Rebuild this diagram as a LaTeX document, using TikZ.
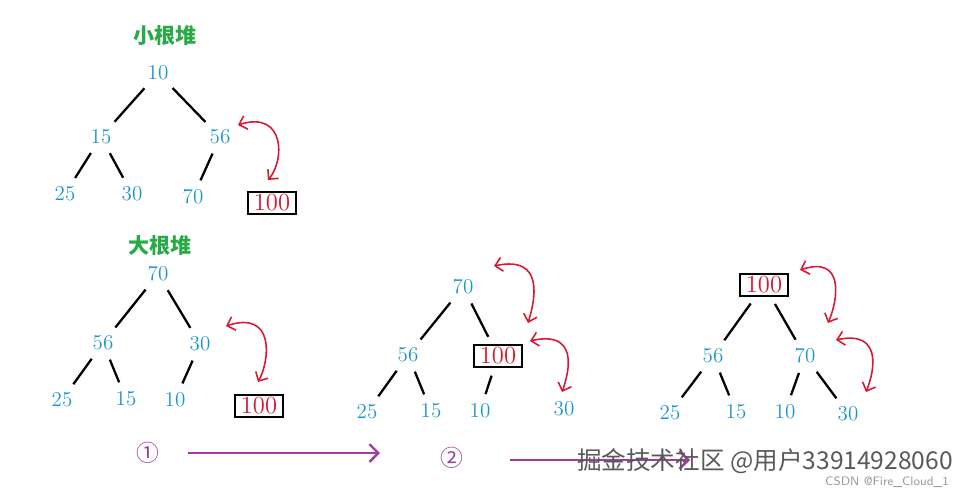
\documentclass[tikz,border=0pt]{standalone}
\usepackage{fontspec}
\newfontfamily\cjk{Noto Sans CJK SC}
\usetikzlibrary{arrows.meta}
\definecolor{heapblue}{RGB}{30,150,200}
\definecolor{heapgreen}{RGB}{40,170,70}
\definecolor{heapred}{RGB}{215,25,50}
\definecolor{heappurple}{RGB}{160,60,160}
\tikzset{
  num/.style={text=heapblue, font=\fontsize{12}{13}\selectfont, inner sep=1pt},
  big/.style={draw=black, line width=1.2pt, text=heapred, font=\fontsize{14}{15}\selectfont, inner sep=1.5pt, minimum width=1.3cm/1.35},
  title/.style={text=heapgreen, font=\cjk\bfseries\fontsize{12}{13}\selectfont},
  edge/.style={line width=1.3pt, shorten <=4.5pt, shorten >=4.5pt},
  swap/.style={<->, heapred, line width=0.9pt, >={Straight Barb[length=4pt]}},
  stepline/.style={->, heappurple, line width=1.4pt, >={Straight Barb[length=5pt]}},
}
\begin{document}
\begin{tikzpicture}[x=0.02cm, y=-0.02cm]
  \useasboundingbox (0,0) rectangle (970,494);

  % min heap
  \node[title] (tmin) at (165,36) {小根堆};
  \node[num] (a10) at (158,73) {10};
  \node[num] (a15) at (101,137) {15};
  \node[num] (a56) at (220,137) {56};
  \node[num] (a25) at (65,194) {25};
  \node[num] (a30) at (132,194) {30};
  \node[num] (a70) at (193,197) {70};
  \node[big] (a100) at (272,203) {100};
  \draw[edge] (a10) -- (a15);
  \draw[edge] (a10) -- (a56);
  \draw[edge] (a15) -- (a25);
  \draw[edge] (a15) -- (a30);
  \draw[edge] (a56) -- (a70);
  \coordinate (as1) at (238,125);
  \coordinate (as2) at (268,180);
  \draw[swap] (as1) .. controls (285,110) and (285,160) .. (as2);

  % max heap
  \node[title] (tmax) at (160,246) {大根堆};
  \node[num] (b70) at (158,274) {70};
  \node[num] (b56) at (103,343) {56};
  \node[num] (b30) at (200,344) {30};
  \node[num] (b25) at (62,400) {25};
  \node[num] (b15) at (126,399) {15};
  \node[num] (b10) at (175,400) {10};
  \node[big] (b100) at (259,406) {100};
  \draw[edge] (b70) -- (b56);
  \draw[edge] (b70) -- (b30);
  \draw[edge] (b56) -- (b25);
  \draw[edge] (b56) -- (b15);
  \draw[edge] (b30) -- (b10);
  \coordinate (bs1) at (226,326);
  \coordinate (bs2) at (258,382);
  \draw[swap] (bs1) .. controls (275,310) and (270,360) .. (bs2);

  % after first swap
  \node[num] (c70) at (463,287) {70};
  \node[num] (c56) at (408,355) {56};
  \node[big] (c100) at (498,356) {100};
  \node[num] (c25) at (367,412) {25};
  \node[num] (c15) at (431,411) {15};
  \node[num] (c10) at (480,411) {10};
  \node[num] (c30) at (564,409) {30};
  \draw[edge] (c70) -- (c56);
  \draw[edge] (c70) -- (c100);
  \draw[edge] (c56) -- (c25);
  \draw[edge] (c56) -- (c15);
  \draw[edge] (c100) -- (c10);
  \coordinate (cs1) at (494,266);
  \coordinate (cs2) at (528,323);
  \draw[swap] (cs1) .. controls (545,255) and (535,300) .. (cs2);
  \coordinate (cs3) at (530,341);
  \coordinate (cs4) at (562,392);
  \draw[swap] (cs3) .. controls (578,330) and (570,370) .. (cs4);

  % after second swap
  \node[big] (d100) at (764,285) {100};
  \node[num] (d56) at (713,356) {56};
  \node[num] (d70) at (805,356) {70};
  \node[num] (d25) at (670,413) {25};
  \node[num] (d15) at (736,412) {15};
  \node[num] (d10) at (785,412) {10};
  \node[num] (d30) at (848,414) {30};
  \draw[edge] (d100) -- (d56);
  \draw[edge] (d100) -- (d70);
  \draw[edge] (d56) -- (d25);
  \draw[edge] (d56) -- (d15);
  \draw[edge] (d70) -- (d10);
  \draw[edge] (d70) -- (d30);
  \coordinate (ds1) at (800,270);
  \coordinate (ds2) at (828,323);
  \draw[swap] (ds1) .. controls (845,255) and (838,300) .. (ds2);
  \coordinate (ds3) at (836,340);
  \coordinate (ds4) at (866,392);
  \draw[swap] (ds3) .. controls (882,330) and (875,370) .. (ds4);

  % steps
  \node[text=heappurple, font=\cjk\fontsize{13}{14}\selectfont] (s1) at (148,453) {①};
  \coordinate (s1a) at (188,453);
  \coordinate (s1b) at (380,453);
  \draw[stepline] (s1a) -- (s1b);
  \node[text=heappurple, font=\cjk\fontsize{13}{14}\selectfont] (s2) at (452,458) {②};
  \coordinate (s2a) at (510,460);
  \coordinate (s2b) at (690,460);
  \draw[stepline] (s2a) -- (s2b);

  % watermarks
  \node[text=black!65, font=\cjk\fontsize{14}{15}\selectfont] (wm1) at (765,461) {掘金技术社区 @用户33914928060};
  \node[text=black!40, font=\sffamily\fontsize{7}{8}\selectfont, anchor=east] (wm2) at (955,482) {CSDN @Fire\_Cloud\_1};
\end{tikzpicture}
\end{document}
